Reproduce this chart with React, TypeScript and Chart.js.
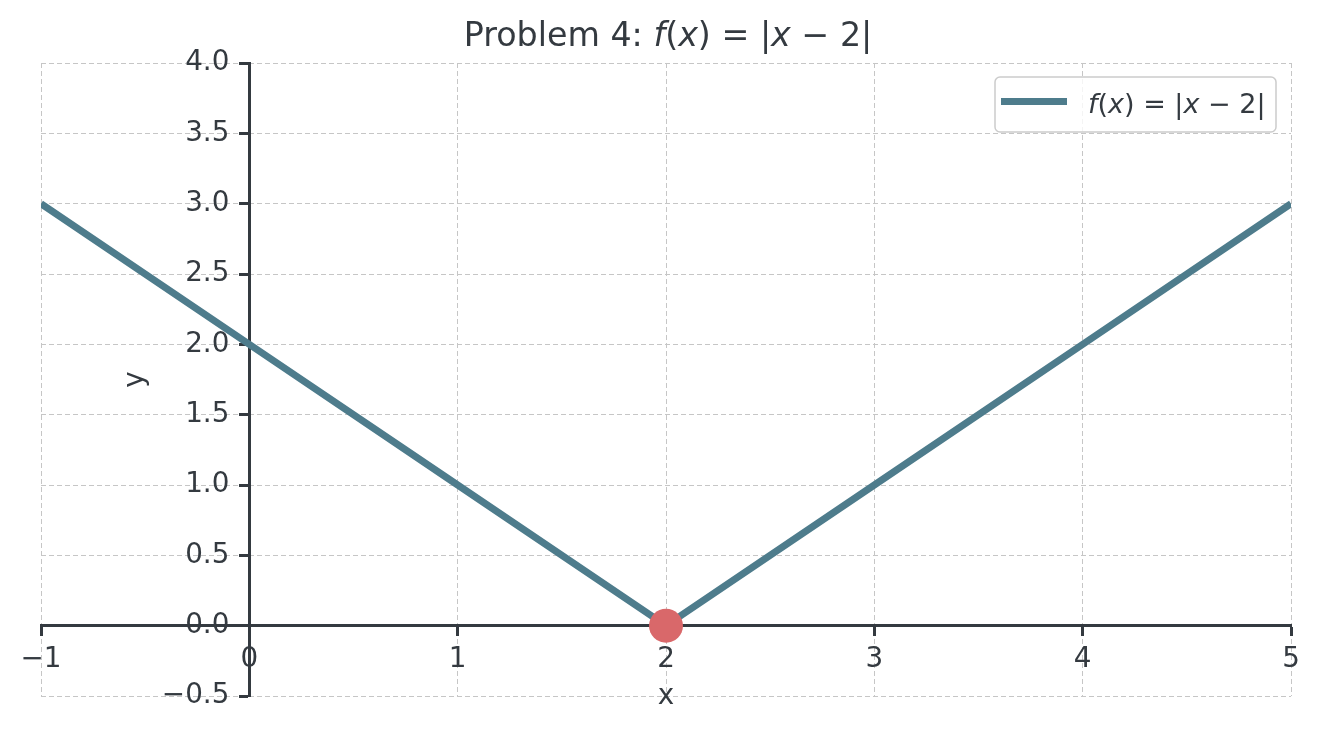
import React, { useEffect, useRef } from "react";
import { Chart, registerables } from "chart.js";

Chart.register(...registerables);

const xValues = [-1, 0, 1, 2, 3, 4, 5];
const yValues = [3, 2, 1, 0, 1, 2, 3];
const vertexX = [2];
const vertexY = [0];
const seriesLabel = "f(x) = |x − 2|";

const TEXT = "#343a40";
const LINE = "#4e7c8c";
const DOT = "#d9686a";
const GRID = "#c6c6c6";
const FONT = "'DejaVu Sans', sans-serif";
const TICK_SIZE = 27.8;
const TITLE_SIZE = 33.3;

type Seg = [string, boolean];

const titleSegs: Seg[] = [
  ["Problem 4: ", false],
  ["f", true],
  ["(", false],
  ["x", true],
  [") = |", false],
  ["x", true],
  [" − 2|", false],
];
const legendSegs: Seg[] = [
  ["f", true],
  ["(", false],
  ["x", true],
  [") = |", false],
  ["x", true],
  [" − 2|", false],
];

function drawSegs(ctx: CanvasRenderingContext2D, segs: Seg[], x: number, y: number, size: number, align: "center" | "left") {
  const fontOf = (it: boolean) => `${it ? "oblique " : ""}${size}px ${FONT}`;
  let total = 0;
  const widths = segs.map(([t, it]) => {
    ctx.font = fontOf(it);
    const w = ctx.measureText(t).width;
    total += w;
    return w;
  });
  let cx = align === "center" ? x - total / 2 : x;
  ctx.textAlign = "left";
  ctx.textBaseline = "alphabetic";
  ctx.fillStyle = TEXT;
  segs.forEach(([t, it], i) => {
    ctx.font = fontOf(it);
    ctx.fillText(t, cx, y);
    cx += widths[i];
  });
}

const shiftYLabelsPlugin = {
  id: "shiftYLabels",
  beforeDraw(chart: any) {
    const s = chart.scales.y;
    const items = s.getLabelItems(chart.chartArea);
    if (s.__shifted === items) return;
    items.forEach((it: any) => {
      it.options.translation[0] -= 20;
    });
    s.__shifted = items;
  },
};

const decorPlugin = {
  id: "decor",
  afterDraw(chart: any) {
    const ctx: CanvasRenderingContext2D = chart.ctx;
    const area = chart.chartArea;
    ctx.save();
    // title
    drawSegs(ctx, titleSegs, (area.left + area.right) / 2 + 2, 46, TITLE_SIZE, "center");
    // axis labels
    ctx.font = `${TICK_SIZE}px ${FONT}`;
    ctx.fillStyle = TEXT;
    ctx.textAlign = "center";
    ctx.textBaseline = "alphabetic";
    ctx.fillText("x", (area.left + area.right) / 2, 704);
    ctx.save();
    ctx.translate(143, (area.top + area.bottom) / 2);
    ctx.rotate(-Math.PI / 2);
    ctx.fillText("y", 0, 0);
    ctx.restore();
    // legend
    const lx = 995, ly = 77, lw = 281, lh = 55, r = 5;
    ctx.beginPath();
    ctx.moveTo(lx + r, ly);
    ctx.arcTo(lx + lw, ly, lx + lw, ly + lh, r);
    ctx.arcTo(lx + lw, ly + lh, lx, ly + lh, r);
    ctx.arcTo(lx, ly + lh, lx, ly, r);
    ctx.arcTo(lx, ly, lx + lw, ly, r);
    ctx.closePath();
    ctx.fillStyle = "rgba(255,255,255,0.8)";
    ctx.fill();
    ctx.strokeStyle = "#cccccc";
    ctx.lineWidth = 1.5;
    ctx.stroke();
    ctx.beginPath();
    ctx.moveTo(1001, 101.5);
    ctx.lineTo(1067, 101.5);
    ctx.strokeStyle = LINE;
    ctx.lineWidth = 7;
    ctx.lineCap = "butt";
    ctx.stroke();
    drawSegs(ctx, legendSegs, 1088, 113, 27, "left");
    ctx.restore();
  },
};

export default function App() {
  const ref = useRef<HTMLCanvasElement>(null);
  useEffect(() => {
    if (!ref.current) return;
    Chart.defaults.font.family = FONT;
    const chart = new Chart(ref.current, {
      type: "line",
      data: {
        datasets: [
          {
            label: seriesLabel,
            data: xValues.map((x, i) => ({ x, y: yValues[i] })),
            borderColor: LINE,
            backgroundColor: LINE,
            borderWidth: 7,
            pointRadius: 0,
            borderJoinStyle: "round",
            clip: 0,
            order: 2,
          },
          {
            label: "vertex",
            data: vertexX.map((x, i) => ({ x, y: vertexY[i] })),
            showLine: false,
            pointRadius: 17,
            pointBackgroundColor: DOT,
            pointBorderWidth: 0,
            borderColor: DOT,
            clip: false,
            order: 1,
          },
        ],
      },
      options: {
        responsive: false,
        animation: false,
        events: [],
        layout: { padding: { left: 41, right: 28, top: 63, bottom: 36 } },
        plugins: { legend: { display: false }, title: { display: false }, tooltip: { enabled: false } },
        scales: {
          x: {
            type: "linear",
            position: { y: 0 } as any,
            min: -1,
            max: 5,
            ticks: {
              stepSize: 1,
              color: TEXT,
              font: { size: TICK_SIZE },
              padding: 8,
              callback: (v: any) => String(v).replace("-", "−"),
            },
            grid: {
              color: GRID,
              lineWidth: 1,
              drawTicks: true,
              tickLength: 9,
              tickColor: TEXT,
              tickWidth: 3,
            },
            border: { display: true, color: TEXT, width: 3, dash: [5, 3] },
          },
          y: {
            type: "linear",
            position: { x: 0 } as any,
            min: -0.5,
            max: 4,
            ticks: {
              stepSize: 0.5,
              color: TEXT,
              font: { size: TICK_SIZE },
              padding: 9,
              callback: (v: any) => Number(v).toFixed(1).replace("-", "−"),
            },
            grid: {
              color: GRID,
              lineWidth: 1,
              drawTicks: true,
              tickLength: 9,
              tickColor: TEXT,
              tickWidth: 3,
            },
            border: { display: true, color: TEXT, width: 3, dash: [5, 3] },
          },
        },
      },
      plugins: [shiftYLabelsPlugin, decorPlugin],
    });
    return () => chart.destroy();
  }, []);
  return (
    <canvas
      ref={ref}
      width={1319}
      height={732}
      style={{ position: "absolute", left: 0, top: 0, display: "block" }}
    />
  );
}
